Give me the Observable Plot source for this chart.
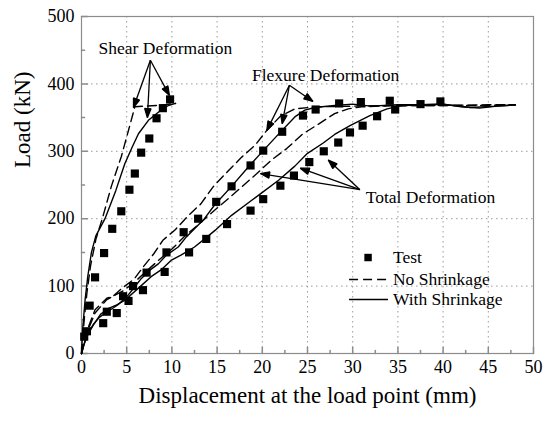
<!DOCTYPE html>
<html><head><meta charset="utf-8">
<script src="https://cdn.jsdelivr.net/npm/d3@7"></script>
<script src="https://cdn.jsdelivr.net/npm/@observablehq/plot@0.6"></script>
<style>
html,body{margin:0;padding:0;background:#fff;}
#chart{width:546px;height:421px;}
#chart svg, #chart svg text{font-family:'Liberation Serif','Times New Roman',serif;}
</style>
</head><body><div id="chart"></div>
<script>
// ---- data (displacement mm, load kN) ----
const testShear = [[0.3,25],[0.6,33],[0.9,71],[1.5,113],[2.5,149],[3.4,185],[4.4,211],[5.3,243],[5.9,267],[6.6,298],[7.5,319],[8.3,349],[9.0,364],[9.8,377]];
const testFlexure = [[2.4,45],[2.8,62],[4.6,85],[5.7,100],[7.2,120],[9.4,150],[11.3,180],[12.9,200],[14.9,225],[16.6,248],[18.7,279],[20.1,301],[22.2,329],[24.5,353],[25.9,362],[28.5,371],[30.9,373],[34.1,375]];
const testTotal = [[3.9,60],[5.2,78],[6.8,94],[9.2,121],[11.9,150],[13.8,170],[16.1,192],[18.7,212],[20.1,229],[22.0,249],[23.5,264],[25.2,284],[26.8,300],[28.4,313],[29.7,328],[31.1,338],[32.7,352],[34.7,362],[37.5,370],[39.7,374]];

const shearNoShrink = [[0,0],[0.3,50],[0.6,90],[1.0,130],[1.6,170],[2.3,200],[3.3,248],[4.4,292],[5.4,341],[5.9,366],[7,367],[8.5,368],[10.4,371]];
const shearWithShrink = [[0,0],[0.15,40],[0.4,80],[0.7,115],[1.1,150],[1.6,175],[2.6,200],[3.8,242],[4.8,282],[5.6,306],[6.3,326],[7.4,346],[8.5,358],[9.6,368],[10.4,371]];

const flexNoShrink = [[0,0],[0.5,30],[1.5,65],[2.8,82],[3.5,85],[4.5,97],[5.8,110],[6.8,128],[8,148],[9,168],[10.4,184],[11.7,203],[13.2,222],[14.6,248],[16.3,272],[17.7,291],[19.2,309],[20.5,331],[22,352],[23.6,363],[26,366],[30,367],[35,368],[40,368],[45,368],[48,369]];
const flexWithShrink = [[0,0],[0.3,15],[0.7,30],[1.3,43],[2,54],[3,63],[4,72],[5,84],[5.9,99],[6.6,111],[7.6,124],[8.5,133],[9.4,146],[10.7,158],[11.6,173],[12.5,185],[13.6,200],[14.7,220],[16.6,248],[18.6,279],[20.1,301],[21.9,327],[23.6,351],[24.7,361],[25.8,365],[28,368],[30,370],[32,367],[35,369],[38,369],[40,370],[43,365],[46,367],[48,369]];

const totalNoShrink = [[0,0],[0.5,28],[1.5,60],[2.8,80],[4.5,92],[5.8,105],[7,120],[8.5,138],[10,155],[11.5,175],[13,192],[14.5,210],[16,227],[17.7,247],[19.4,267],[21,287],[22.7,304],[24.5,326],[26.3,341],[28,356],[29.5,363],[31,366],[35,368],[40,368],[45,369],[48,369]];
const totalWithShrink = [[0,0],[0.3,14],[0.7,28],[1.3,42],[2.1,58],[3,67],[3.9,72],[4.8,79],[6.3,97],[7.7,114],[8.8,124],[9.9,138],[11,146],[12.5,158],[13.9,173],[14.8,183],[16.6,205],[18.5,224],[19.9,238],[21.8,257],[23.6,278],[25,297],[26.7,312],[28,325],[29.7,338],[31.9,353],[33.8,363],[35.2,367],[37,369],[40,370],[42,366],[44,364],[46,367],[48,369]];

const xTicks = [0,5,10,15,20,25,30,35,40,45,50];
const xMinorTicks = [2.5,7.5,12.5,17.5,22.5,27.5,32.5,37.5,42.5,47.5];
const yTicks = [0,100,200,300,400,500];
const yMinorTicks = [50,150,250,350,450];
const xGrid = [5,10,15,20,25,30,35,40,45];
const yGrid = [100,200,300,400];

const xLabel = "Displacement at the load point (mm)";
const yLabel = "Load (kN)";

const annotationLabels = ["Shear Deformation","Flexure Deformation","Total Deformation"];
const annotationX = [9.28, 27.0, 38.6];
const annotationY = [453, 413, 232];

// arrows: [from x, from y, to x, to y]
const arrowList = [
  [7.62,435,5.75,365],[7.62,435,7.29,350],[7.62,435,9.72,383],
  [23.0,398,20.5,331],[23.0,398,22.2,341],[23.0,398,25.6,374],
  [30.8,243,19.8,267],[30.8,243,24.2,275],[30.8,243,27.3,287]
];

const legendLabels = ["Test","No Shrinkage","With Shrinkage"];

// ---- layout (not data) ----
const legendLayout = {symX: 31.7, lineX1: 29.6, lineX2: 33.9, textX: 34.45, rowY: [142.4, 109.8, 80.1]};

const allTest = [...testShear, ...testFlexure, ...testTotal];
const tickShape = {draw(context, l) { context.moveTo(0, 0); context.lineTo(0, -l); }};
const FONT = "'Liberation Serif','Times New Roman',serif";
const AX = "#8c8c8c";

function filledArrow(color, context) {
  const m = d3.create("svg:marker")
    .attr("viewBox", "-10 -5 12 10")
    .attr("markerWidth", 12)
    .attr("markerHeight", 10)
    .attr("markerUnits", "userSpaceOnUse")
    .attr("orient", "auto")
    .attr("fill", color);
  m.append("path").attr("d", "M-9,-3.2L0,0L-9,3.2Z");
  return m.node();
}

const dash = "9,5";
const lw = 1.4;

const plot = Plot.plot({
  width: 546,
  height: 421,
  marginLeft: 81,
  marginRight: 13,
  marginTop: 16,
  marginBottom: 68,
  style: `font-family: ${FONT}; font-size: 17px; color: black; background: white;`,
  x: {domain: [0, 50]},
  y: {domain: [0, 500]},
  marks: [
    Plot.gridX(xGrid, {stroke: "#9a9a9a", strokeOpacity: 1, strokeDasharray: "1.5,3.5", strokeWidth: 1}),
    Plot.gridY(yGrid, {stroke: "#9a9a9a", strokeOpacity: 1, strokeDasharray: "1.5,3.5", strokeWidth: 1}),
    Plot.frame({stroke: AX, strokeWidth: 1.2}),
    Plot.vector(xTicks, {x: d => d, frameAnchor: "bottom", length: 6, rotate: 0, anchor: "start", shape: tickShape, stroke: AX}),
    Plot.vector(xMinorTicks, {x: d => d, frameAnchor: "bottom", length: 3, rotate: 0, anchor: "start", shape: tickShape, stroke: AX}),
    Plot.vector(yTicks, {y: d => d, frameAnchor: "left", length: 6, rotate: 90, anchor: "start", shape: tickShape, stroke: AX}),
    Plot.vector(yMinorTicks, {y: d => d, frameAnchor: "left", length: 3, rotate: 90, anchor: "start", shape: tickShape, stroke: AX}),
    Plot.axisX(xTicks, {anchor: "bottom", tickSize: 0, tickPadding: 7, label: null, fontSize: 18, fontFamily: FONT}),
    Plot.axisY(yTicks, {anchor: "left", tickSize: 0, tickPadding: 7, label: null, fontSize: 18, fontFamily: FONT}),
    Plot.text([xLabel], {frameAnchor: "bottom", dy: 49, fontSize: 23, fontFamily: FONT, text: d => d}),
    Plot.text([yLabel], {frameAnchor: "left", dx: -59, dy: -17, rotate: -90, fontSize: 23, fontFamily: FONT, text: d => d}),

    Plot.line(shearNoShrink, {x: d => d[0], y: d => d[1], stroke: "black", strokeWidth: lw, strokeDasharray: dash}),
    Plot.line(flexNoShrink, {x: d => d[0], y: d => d[1], stroke: "black", strokeWidth: lw, strokeDasharray: dash}),
    Plot.line(totalNoShrink, {x: d => d[0], y: d => d[1], stroke: "black", strokeWidth: lw, strokeDasharray: dash}),
    Plot.line(shearWithShrink, {x: d => d[0], y: d => d[1], stroke: "black", strokeWidth: lw}),
    Plot.line(flexWithShrink, {x: d => d[0], y: d => d[1], stroke: "black", strokeWidth: lw}),
    Plot.line(totalWithShrink, {x: d => d[0], y: d => d[1], stroke: "black", strokeWidth: lw}),

    Plot.dot(allTest, {x: d => d[0], y: d => d[1], symbol: "square", r: 4.6, fill: "black", stroke: null}),

    Plot.link(arrowList, {x1: d => d[0], y1: d => d[1], x2: d => d[2], y2: d => d[3], stroke: "black", strokeWidth: 1.3, markerEnd: filledArrow}),
    Plot.text(annotationLabels, {x: (d, i) => annotationX[i], y: (d, i) => annotationY[i], text: d => d, fontSize: 17.5, fontFamily: FONT, textAnchor: "middle"}),

    // legend
    Plot.dot([legendLabels[0]], {x: legendLayout.symX, y: legendLayout.rowY[0], symbol: "square", r: 4.2, fill: "black", stroke: null}),
    Plot.link([legendLabels[1]], {x1: legendLayout.lineX1, x2: legendLayout.lineX2, y1: legendLayout.rowY[1], y2: legendLayout.rowY[1], stroke: "black", strokeWidth: lw, strokeDasharray: dash}),
    Plot.link([legendLabels[2]], {x1: legendLayout.lineX1, x2: legendLayout.lineX2, y1: legendLayout.rowY[2], y2: legendLayout.rowY[2], stroke: "black", strokeWidth: lw}),
    Plot.text(legendLabels, {x: legendLayout.textX, y: (d, i) => legendLayout.rowY[i], text: d => d, textAnchor: "start", fontSize: 17.5, fontFamily: FONT})
  ]
});
document.getElementById("chart").appendChild(plot);
</script>
</body></html>
